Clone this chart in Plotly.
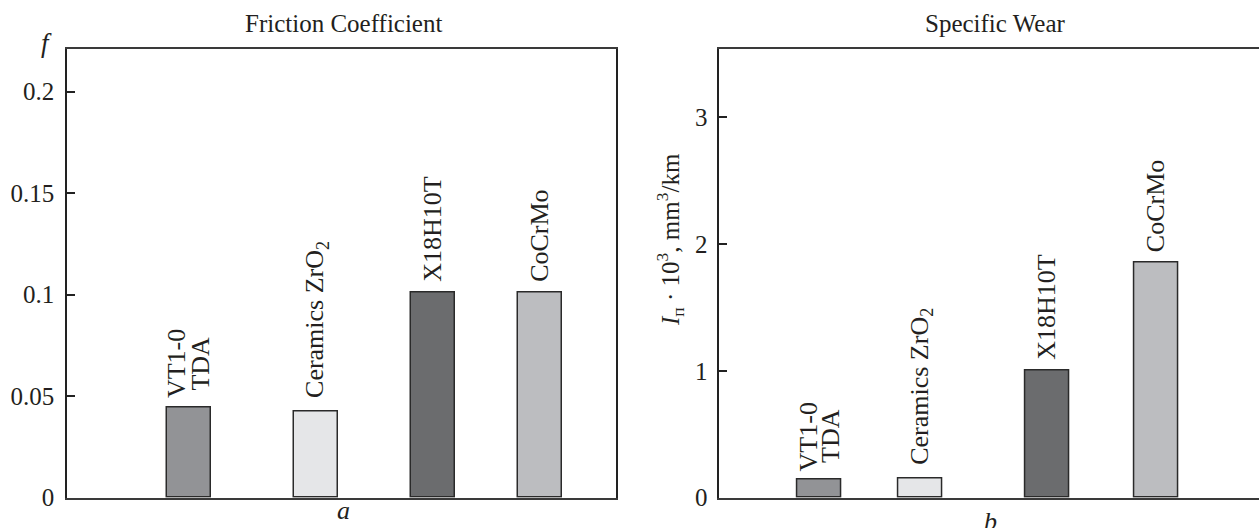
import plotly.graph_objects as go

# ---- data ----
materials = [["VT1-0", "TDA"], ["Ceramics ZrO<sub>2</sub>"], ["X18H10T"], ["CoCrMo"]]
friction = [0.0445, 0.0425, 0.101, 0.101]
wear = [0.14, 0.155, 1.0, 1.85]
friction_ticks = [0, 0.05, 0.1, 0.15, 0.2]
friction_ticktext = ["0", "0.05", "0.1", "0.15", "0.2"]
wear_ticks = [0, 1, 2, 3]
wear_ticktext = ["0", "1", "2", "3"]
bar_colors = ["#929396", "#e5e6e8", "#6b6c6e", "#bcbdc0"]

# ---- layout positions (fractions of each panel width) ----
pos_a = [0.2217, 0.4536, 0.667, 0.8619]
pos_b = [0.1846, 0.3704, 0.6038, 0.8052]
bw_a = 0.0801
bw_b = 0.0811
label_gap = [7, 11, 9, 9]

W, H = 1259, 528
FONT = "Liberation Serif"
TXT = "#231f20"

fig = go.Figure()
fig.add_trace(go.Bar(x=pos_a, y=friction, width=bw_a, xaxis="x", yaxis="y",
                     marker=dict(color=bar_colors, line=dict(color="#2a2a2a", width=1.5)),
                     showlegend=False, hoverinfo="y"))
fig.add_trace(go.Bar(x=pos_b, y=wear, width=bw_b, xaxis="x2", yaxis="y2",
                     marker=dict(color=bar_colors, line=dict(color="#2a2a2a", width=1.5)),
                     showlegend=False, hoverinfo="y"))


def bar_labels(xs, vals, xr, yr):
    out = []
    for i, (xp, v, lines) in enumerate(zip(xs, vals, materials)):
        n = len(lines)
        for j, t in enumerate(lines):
            xshift = (j - (n - 1) / 2) * 23
            ys = label_gap[i] + (8 if (n > 1 and j > 0) else 0)
            out.append(dict(x=xp, y=v, xref=xr, yref=yr, text=t, showarrow=False,
                            textangle=-90, xanchor="center", yanchor="bottom",
                            xshift=xshift, yshift=ys,
                            font=dict(family=FONT, size=26, color=TXT)))
    return out


annotations = bar_labels(pos_a, friction, "x", "y") + bar_labels(pos_b, wear, "x2", "y2")

# titles and axis labels
annotations += [
    dict(x=343 / W, y=1 - 23 / H, xref="paper", yref="paper", text="Friction Coefficient",
         showarrow=False, xanchor="center", yanchor="middle",
         font=dict(family=FONT, size=25, color=TXT)),
    dict(x=995 / W, y=1 - 23 / H, xref="paper", yref="paper", text="Specific Wear",
         showarrow=False, xanchor="center", yanchor="middle",
         font=dict(family=FONT, size=25, color=TXT)),
    dict(x=46 / W, y=1 - 43 / H, xref="paper", yref="paper", text="<i>f</i>",
         showarrow=False, xanchor="center", yanchor="middle",
         font=dict(family=FONT, size=27, color=TXT)),
    dict(x=343 / W, y=1 - 510 / H, xref="paper", yref="paper", text="<i>a</i>",
         showarrow=False, xanchor="center", yanchor="middle",
         font=dict(family=FONT, size=26, color=TXT)),
    dict(x=990 / W, y=1 - 521 / H, xref="paper", yref="paper", text="<i>b</i>",
         showarrow=False, xanchor="center", yanchor="middle",
         font=dict(family=FONT, size=26, color=TXT)),
    dict(x=670 / W, y=1 - 240 / H, xref="paper", yref="paper",
         text="<i>I</i><sub>п</sub> · 10<sup>3</sup>, mm<sup>3</sup>/km",
         showarrow=False, textangle=-90, xanchor="center", yanchor="middle",
         font=dict(family=FONT, size=25, color=TXT)),
]

ydom = [(H - 497.7) / H, (H - 48.5) / H]
left_x0, left_x1 = 67, 616
right_x0, right_x1 = 719.3, 1262

fig.update_layout(
    width=W, height=H,
    margin=dict(l=0, r=0, t=0, b=0, autoexpand=False),
    paper_bgcolor="white", plot_bgcolor="white",
    font=dict(family=FONT, color=TXT),
    bargap=0,
    annotations=annotations,
    xaxis=dict(domain=[left_x0 / W, left_x1 / W], range=[0, 1], showgrid=False, zeroline=False,
               showticklabels=False, ticks="", showline=True, linecolor="#3a3a3a", linewidth=2,
               mirror=True, fixedrange=True, automargin=False),
    yaxis=dict(domain=ydom, range=[0, 0.2213], showgrid=False, zeroline=False,
               tickvals=friction_ticks, ticktext=friction_ticktext,
               ticks="inside", ticklen=8, tickwidth=1.5, tickcolor="#222",
               showline=True, linecolor="#222", linewidth=1.5, mirror=True,
               tickfont=dict(family=FONT, size=25, color=TXT), ticklabelstandoff=6,
               anchor="x", automargin=False),
    xaxis2=dict(domain=[right_x0 / W, 1.0], range=[0, (W - right_x0) / (right_x1 - right_x0)],
                showgrid=False, zeroline=False, showticklabels=False, ticks="",
                showline=True, linecolor="#3a3a3a", linewidth=2, mirror=True,
                anchor="y2", fixedrange=True, automargin=False),
    yaxis2=dict(domain=ydom, range=[0, 3.539], showgrid=False, zeroline=False,
                tickvals=wear_ticks, ticktext=wear_ticktext,
                ticks="inside", ticklen=8, tickwidth=1.5, tickcolor="#222",
                showline=True, linecolor="#222", linewidth=1.5, mirror=False,
                tickfont=dict(family=FONT, size=25, color=TXT), ticklabelstandoff=5,
                anchor="x2", automargin=False),
)

fig.write_html("out.html",
               config={"displayModeBar": False},
               post_script="document.body.style.margin='0';document.body.style.overflow='hidden';")
